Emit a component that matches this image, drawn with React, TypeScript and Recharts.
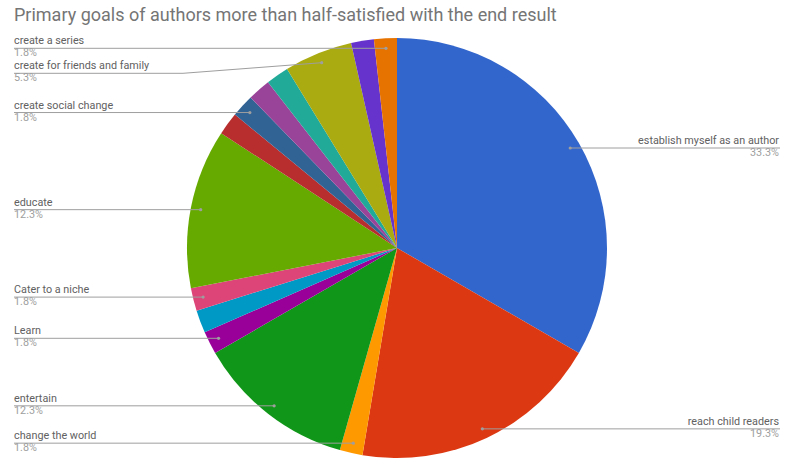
import React from "react";
import { PieChart, Pie, Cell } from "recharts";

// goals, clockwise from 12 o'clock; blank names are slices without a visible label
const goals = [
  "establish myself as an author",
  "reach child readers",
  "change the world",
  "entertain",
  "Learn",
  "",
  "Cater to a niche",
  "educate",
  "",
  "create social change",
  "",
  "",
  "create for friends and family",
  "",
  "create a series",
];
const counts = [19, 11, 1, 7, 1, 1, 1, 7, 1, 1, 1, 1, 3, 1, 1];
const colors = [
  "#3366cc", "#dc3912", "#ff9900", "#109618", "#990099",
  "#0099c6", "#dd4477", "#66aa00", "#b82e2e", "#316395",
  "#994499", "#22aa99", "#aaaa11", "#6633cc", "#e67300",
];

const data = goals.map((name, i) => ({ name, value: counts[i] }));
const total = counts.reduce((a, b) => a + b, 0);

const CX = 397;
const CY = 248;
const R = 210;
const DOT_R = 200;
const RAD = Math.PI / 180;
const FONT = "Roboto, 'Noto Sans', sans-serif";

// work out where each label's line sits so stacked labels don't collide
const lineY: Record<number, number> = (() => {
  let acc = 0;
  const anchors = counts.map((c, i) => {
    const mid = ((acc + c / 2) / total) * 360;
    acc += c;
    return {
      i,
      x: CX + DOT_R * Math.sin(mid * RAD),
      y: CY - DOT_R * Math.cos(mid * RAD),
    };
  });
  const out: Record<number, number> = {};
  [true, false].forEach((left) => {
    const side = anchors
      .filter((a) => goals[a.i] && (a.x < CX) === left)
      .sort((a, b) => a.y - b.y);
    let prev = -Infinity;
    side.forEach((a) => {
      const y = Math.max(a.y, prev + 25);
      out[a.i] = y;
      prev = y;
    });
  });
  return out;
})();

const renderLabel = (props: any) => {
  const { cx, cy, midAngle, index, percent } = props;
  const name = props.payload?.name ?? props.name;
  if (!name) return null;
  const px = cx + DOT_R * Math.cos(-midAngle * RAD);
  const py = cy + DOT_R * Math.sin(-midAngle * RAD);
  const right = px > cx;
  const ly = lineY[index] ?? py;
  const straight = Math.abs(ly - py) < 1.5;
  const edge = right ? 780 : 14;
  const bend = right ? 620 : 183;
  const ty = straight ? py : ly;
  const pts = straight
    ? `${edge},${py} ${px},${py}`
    : `${edge},${ly} ${bend},${ly} ${px},${py}`;
  const tx = right ? 779 : 14;
  const anchor = right ? "end" : "start";
  return (
    <g key={`lbl-${index}`}>
      <polyline points={pts} fill="none" stroke="#9e9e9e" strokeWidth={1} />
      <circle cx={px} cy={py} r={1.6} fill="#9e9e9e" />
      <text x={tx} y={ty - 4} textAnchor={anchor} fontFamily={FONT} fontSize={10.8} fill="#616161">
        {name}
      </text>
      <text x={tx} y={ty + 8} textAnchor={anchor} fontFamily={FONT} fontSize={10.8} fill="#9e9e9e">
        {(percent * 100).toFixed(1)}%
      </text>
    </g>
  );
};

export default function App() {
  return (
    <div style={{ position: "absolute", left: 0, top: 0, width: 800, height: 462, background: "#fff" }}>
      <div
        style={{
          position: "absolute",
          left: 14,
          top: 4,
          fontFamily: FONT,
          fontSize: 18,
          color: "#757575",
          whiteSpace: "nowrap",
          zIndex: 1,
        }}>
        Primary goals of authors more than half-satisfied with the end result
      </div>
      <PieChart width={800} height={462} margin={{ top: 0, right: 0, bottom: 0, left: 0 }}>
        <Pie
          data={data}
          dataKey="value"
          nameKey="name"
          cx={CX}
          cy={CY}
          outerRadius={R}
          startAngle={90}
          endAngle={-270}
          stroke="none"
          label={renderLabel}
          labelLine={false}
          isAnimationActive={false}>
          {data.map((d, i) => (
            <Cell key={i} fill={colors[i]} />
          ))}
        </Pie>
      </PieChart>
    </div>
  );
}
